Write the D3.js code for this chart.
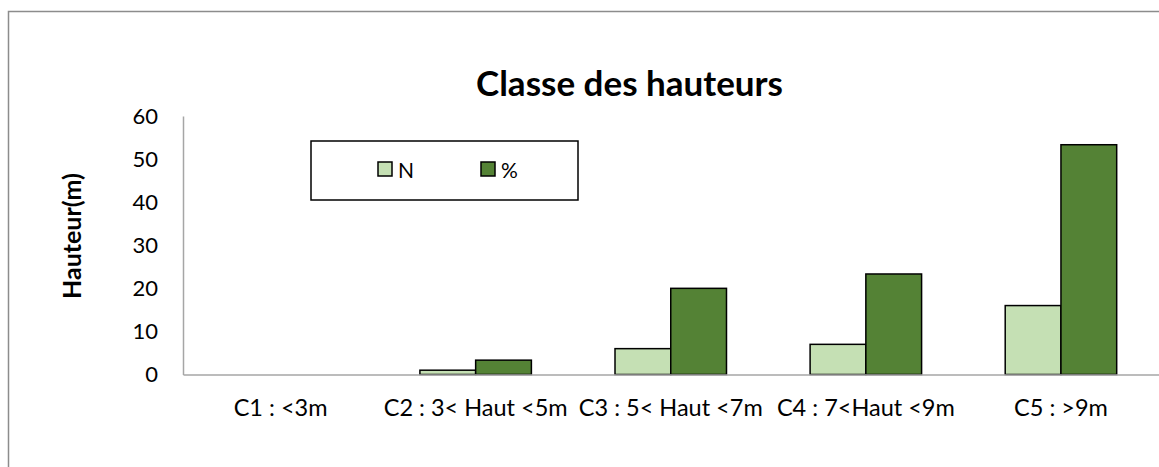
<!DOCTYPE html>
<html><head><meta charset="utf-8">
<script src="https://cdn.jsdelivr.net/npm/d3@7"></script>
<style>
html,body{margin:0;padding:0;background:#fff;}
text{font-family:Lato,"Open Sans",sans-serif;white-space:pre;}
</style></head>
<body>
<svg id="chart" width="1159" height="467"></svg>
<script>
const categories = ["C1 : <3m", "C2 : 3< Haut <5m", "C3 : 5< Haut <7m", "C4 : 7<Haut <9m", "C5 : >9m"];
const seriesNames = ["N", "%"];
const valuesN = [0, 1, 6, 7, 16];
const valuesPct = [0, 3.33, 20, 23.33, 53.33];
const yTicks = [0, 10, 20, 30, 40, 50, 60];
const colors = ["#C5E0B4", "#548235"];

const svg = d3.select("#chart");
const W = 1159, H = 467;
const margin = {left: 183, right: 0.5, top: 116, bottom: 92.5};

// outer chart border (only left/top visible in crop)
svg.append("path").attr("d", `M8.5,${H} V11.5 H${W}`).attr("fill","none").attr("stroke","#8c8c8c").attr("stroke-width",1.5);

const x = d3.scaleBand().domain(categories).range([margin.left, W - margin.right]).paddingInner(1.5/3.5).paddingOuter(0.75/3.5);
const xs = d3.scaleBand().domain(seriesNames).range([0, x.bandwidth()]);
const y = d3.scaleLinear().domain([0, 60]).range([H - margin.bottom, margin.top]);

// title
svg.append("text").attr("x", 629.5).attr("y", 96).attr("text-anchor","middle")
  .attr("font-weight","bold").attr("font-size", 35).attr("fill","#000").text("Classe des hauteurs");

// y axis
const yAxis = d3.axisLeft(y).tickValues(yTicks).tickSize(0).tickPadding(25);
const gy = svg.append("g").attr("transform", `translate(${margin.left},0)`).call(yAxis);
gy.select(".domain").attr("stroke","#a6a6a6").attr("stroke-width",1.5);
gy.selectAll("text").attr("font-size", 22).attr("fill","#000").attr("font-family","Lato");

// y axis title
svg.append("text").attr("transform", `translate(81,236) rotate(-90)`).attr("text-anchor","middle")
  .attr("font-weight","bold").attr("font-size", 25).attr("fill","#000").text("Hauteur(m)");

// bars
const data = categories.map((c,i)=>({cat:c, vals:[valuesN[i], valuesPct[i]]}));
const groups = svg.append("g").selectAll("g").data(data).join("g")
  .attr("transform", d=>`translate(${x(d.cat)},0)`);
groups.selectAll("rect").data(d=>d.vals.map((v,j)=>({v, s:seriesNames[j], j})).filter(e=>e.v>0)).join("rect")
  .attr("x", d=>xs(d.s)).attr("width", xs.bandwidth())
  .attr("y", d=>y(d.v)).attr("height", d=>y(0)-y(d.v))
  .attr("fill", d=>colors[d.j]).attr("stroke","#000").attr("stroke-width",1.5);

// x axis
const xAxis = d3.axisBottom(x).tickSize(0).tickPadding(25);
const gx = svg.append("g").attr("transform", `translate(0,${y(0)})`).call(xAxis);
gx.select(".domain").attr("stroke","#a6a6a6").attr("stroke-width",1.5);
gx.selectAll("text").attr("font-size", 23.5).attr("fill","#000").attr("font-family","Lato");

// legend
const lg = svg.append("g");
lg.append("rect").attr("x",311).attr("y",141).attr("width",267).attr("height",59)
  .attr("fill","#fff").attr("stroke","#000").attr("stroke-width",1.5);
const lx = [378, 481];
seriesNames.forEach((s,i)=>{
  lg.append("rect").attr("x",lx[i]).attr("y",162).attr("width",14).attr("height",14)
    .attr("fill",colors[i]).attr("stroke","#000").attr("stroke-width",1.5);
  lg.append("text").attr("x",lx[i]+20).attr("y",178).attr("font-size",21)
    .attr("font-family","'Liberation Sans',Arial,sans-serif").attr("fill","#000").text(s);
});
</script>
</body></html>
